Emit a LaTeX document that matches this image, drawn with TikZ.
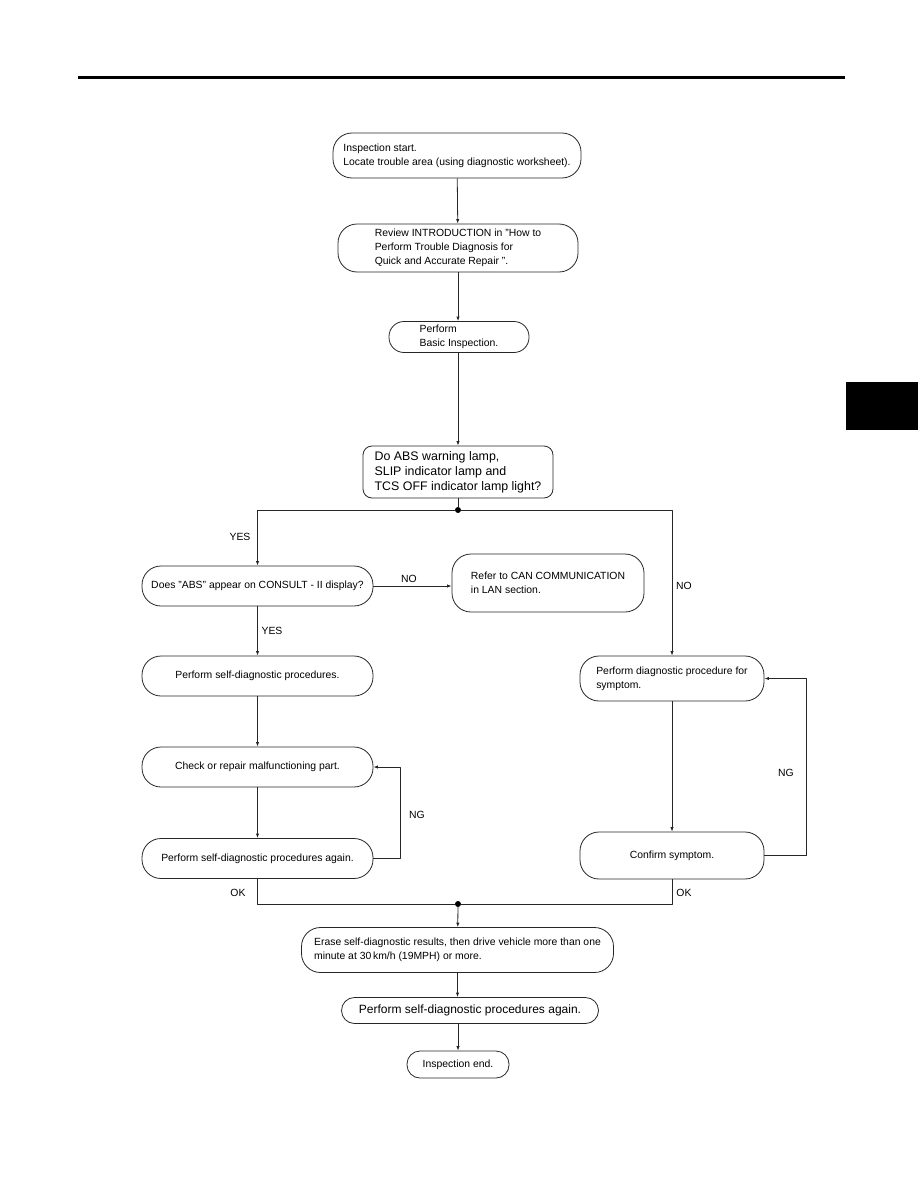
\documentclass[tikz,border=0pt]{standalone}
\usepackage{fontspec}
\setmainfont{Liberation Sans}
\usetikzlibrary{arrows.meta}

\begin{document}
\begin{tikzpicture}[x=1pt, y=-1pt, line join=round,
    font=\fontsize{10.4}{14}\selectfont,
    caja/.style={draw=black!85, line width=0.8pt, rounded corners=#1, inner sep=0pt, align=left},
    caja/.default=19pt,
    flecha/.style={draw=black!85, line width=0.8pt, -{Latex[length=4.5pt,width=3.4pt]}},
    linea/.style={draw=black!85, line width=0.8pt},
    punto/.style={circle, fill=black, inner sep=0pt, minimum size=6pt},
    etiq/.style={inner sep=0pt}]
    \useasboundingbox (0,0) rectangle (918,1188);
    % cabecera y pestana
    \draw[line width=3pt] (78,78) -- (845,78);
    \fill (846,382) rectangle (918,430);
    % columna central
    \node[caja, minimum width=248, minimum height=45] (inicio) at (457,155.5)
        {Inspection start.\\Locate trouble area (using diagnostic worksheet).};
    \node[caja, minimum width=240, minimum height=48] (intro) at (458,248)
        {Review INTRODUCTION in "How to\\Perform Trouble Diagnosis for\\Quick and Accurate Repair ".};
    \node[caja=15pt, minimum width=140, minimum height=31] (basica) at (459,337)
        {Perform\\Basic Inspection.};
    \node[caja=9pt, minimum width=190, minimum height=52,
        font=\fontsize{12.4}{15}\selectfont] (lampara) at (458,472)
        {Do ABS warning lamp,\\SLIP indicator lamp and\\TCS OFF indicator lamp light?};
    \node[punto] (bif) at (458,510) {};
    % rama izquierda
    \node[caja, minimum width=231, minimum height=40, align=center] (consult) at (257.5,586)
        {Does "ABS" appear on CONSULT - II display?};
    \node[caja, minimum width=192, minimum height=58] (can) at (548,583)
        {Refer to CAN COMMUNICATION\\in LAN section.};
    \node[caja, minimum width=231, minimum height=40, align=center] (auto) at (257.5,676)
        {Perform self-diagnostic procedures.};
    \node[caja, minimum width=231, minimum height=40, align=center] (repara) at (257.5,767)
        {Check or repair malfunctioning part.};
    \node[caja, minimum width=231, minimum height=40, align=center] (otravez) at (257.5,858.5)
        {Perform self-diagnostic procedures again.};
    % rama derecha
    \node[caja, minimum width=184, minimum height=45] (sintoma) at (672,678.5)
        {Perform diagnostic procedure for\\symptom.};
    \node[caja, minimum width=184, minimum height=47, align=center] (confirma) at (672,855.5)
        {Confirm symptom.};
    % cierre
    \node[punto] (union) at (458,904) {};
    \node[caja, minimum width=312, minimum height=45] (borra) at (457.5,950)
        {Erase self-diagnostic results, then drive vehicle more than one\\minute at 30\,km/h (19MPH) or more.};
    \node[caja=13pt, minimum width=257, minimum height=26, align=center,
        font=\fontsize{12}{14}\selectfont] (final) at (470,1010.5)
        {Perform self-diagnostic procedures again.};
    \node[caja=13pt, minimum width=102, minimum height=27, align=center] (fin) at (458,1064.5)
        {Inspection end.};
    % conectores
    \draw[flecha] (inicio) -- (intro);
    \draw[flecha] (intro) -- (basica.north -| intro);
    \draw[flecha] (basica.south -| intro) -- (lampara);
    \draw[linea] (lampara) -- (bif);
    \draw[flecha] (bif) -| (consult.north);
    \draw[flecha] (bif) -| (sintoma.north);
    \draw[flecha] (consult.east) -- (consult.east -| can.west);
    \draw[flecha] (consult) -- (auto);
    \draw[flecha] (auto) -- (repara);
    \draw[flecha] (repara) -- (otravez);
    \draw[flecha] (otravez.east) -- ++(27,0) |- (repara.east);
    \draw[flecha] (sintoma) -- (confirma);
    \draw[flecha] (confirma.east) -- ++(42,0) |- (sintoma.east);
    \draw[linea] (otravez.south) |- (union);
    \draw[linea] (confirma.south) |- (union);
    \draw[flecha] (union) -- (borra);
    \draw[flecha] (borra.south) -- (borra.south |- final.north);
    \draw[flecha] (fin.north |- final.south) -- (fin.north);
    % etiquetas
    \node[etiq] (si1) at (240,537) {YES};
    \node[etiq] (no1) at (409,579) {NO};
    \node[etiq] (si2) at (272,631) {YES};
    \node[etiq] (ng1) at (417,815) {NG};
    \node[etiq] (no2) at (684,586) {NO};
    \node[etiq] (ng2) at (786,773) {NG};
    \node[etiq] (ok1) at (238,893) {OK};
    \node[etiq] (ok2) at (684,893) {OK};
\end{tikzpicture}
\end{document}
